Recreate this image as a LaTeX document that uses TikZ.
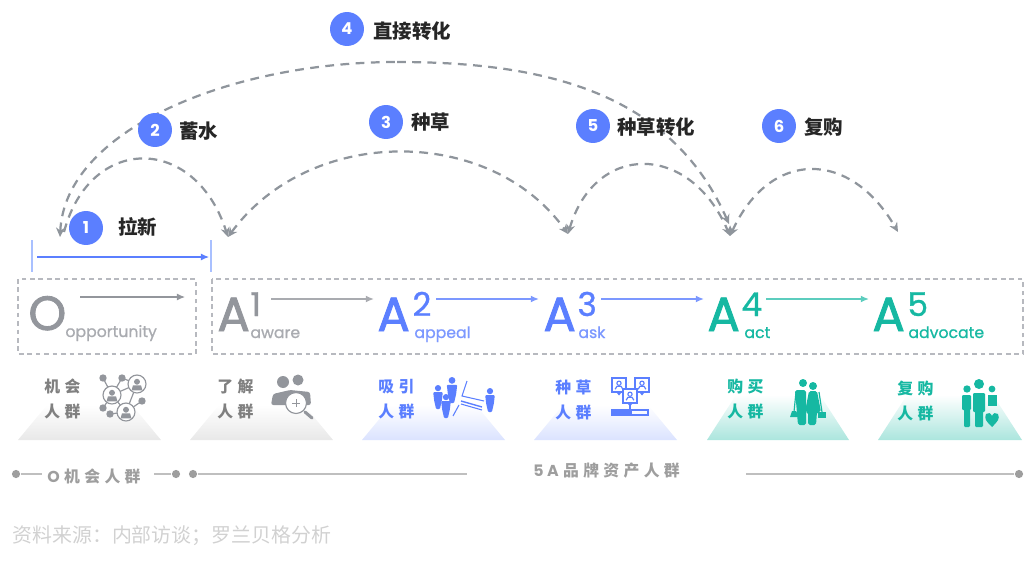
\documentclass[tikz,border=0pt]{standalone}
\usepackage{fontspec}
\setmainfont{Poppins}
\newfontfamily\cjk{Noto Sans CJK SC}
\newfontfamily\cjkwide[WordSpace=1.2]{Noto Sans CJK SC}
\newfontfamily\stagefont[FakeBold=1.8]{Poppins}
\newfontfamily\stagesmall[FakeBold=0.9]{Poppins}
\usetikzlibrary{arrows.meta}

\definecolor{stepblue}{HTML}{5B7FFF}
\definecolor{lineblue}{HTML}{A9C0FF}
\definecolor{stageteal}{HTML}{16B8A2}
\definecolor{stagegray}{HTML}{93969C}
\definecolor{curvegray}{HTML}{8F959C}
\definecolor{boxgray}{HTML}{B7B9BF}

\tikzset{
    stepdot/.style={circle, fill=stepblue, text=white, minimum size=34*0.853pt, inner sep=0pt, font=\bfseries\fontsize{14}{14}\selectfont},
    steptext/.style={anchor=west, inner sep=0pt, text=black!85, font=\cjk\bfseries\fontsize{16.6}{16.6}\selectfont},
    hop/.style={line width=1.9pt, curvegray, dash pattern=on 7.5pt off 5.5pt, -{Stealth[length=8pt,width=7.5pt]}},
    hopboth/.style={hop, {Stealth[length=8pt,width=7.5pt]}-{Stealth[length=8pt,width=7.5pt]}},
    scopebox/.style={line width=1.3pt, boxgray, dash pattern=on 4pt off 3.2pt},
    bigletter/.style={anchor=base west, inner sep=0pt, font=\stagefont\fontsize{41}{41}\selectfont},
    supletter/.style={anchor=base west, inner sep=0pt, font=\stagesmall\fontsize{28}{28}\selectfont},
    subletter/.style={anchor=base west, inner sep=0pt, font=\stagesmall\fontsize{13.4}{13.4}\selectfont},
    flow/.style={line width=1.3pt, -{Latex[length=7pt,width=6pt]}},
    grouptext/.style={align=left, inner sep=0pt, font=\cjkwide\bfseries\fontsize{13.5}{20.8}\selectfont},
    barline/.style={line width=0.9pt, black!25},
    bardot/.style={circle, fill=black!38, minimum size=7pt, inner sep=0pt},
    bartext/.style={inner sep=0pt, text=black!38, font=\cjkwide\bfseries\fontsize{13.5}{13.5}\selectfont}
}

% one standing figure: x, top y, height, colour
\newcommand{\figureicon}[4]{%
    \fill[#4] (#1,{#2+0.13*#3}) circle ({0.13*#3});
    \fill[#4, rounded corners=0.8pt] ({#1-0.2*#3},{#2+0.3*#3}) -- ({#1+0.2*#3},{#2+0.3*#3}) -- ({#1+0.16*#3},{#2+0.65*#3}) -- ({#1+0.08*#3},{#2+#3}) -- ({#1-0.08*#3},{#2+#3}) -- ({#1-0.16*#3},{#2+0.65*#3}) -- cycle;
}
% one ring with a person in it: x, y, radius, colour
\newcommand{\ringicon}[4]{%
    \draw[#4, fill=white, line width=1pt] (#1,#2) circle (#3);
    \fill[#4] (#1,{#2-0.25*#3}) circle ({0.33*#3});
    \fill[#4] ({#1-0.6*#3},{#2+0.7*#3}) -- ({#1-0.45*#3},{#2+0.15*#3}) -- ({#1+0.45*#3},{#2+0.15*#3}) -- ({#1+0.6*#3},{#2+0.7*#3}) -- cycle;
}
% one screen with a person in it: x, y, size, colour
\newcommand{\screenicon}[4]{%
    \draw[#4, fill=white, line width=1.2pt] ({#1-#3},{#2-#3}) rectangle ({#1+#3},{#2+#3});
    \draw[#4, line width=1pt] (#1,{#2-0.25*#3}) circle ({0.3*#3});
    \draw[#4, line width=1pt] ({#1-0.55*#3},{#2+0.6*#3}) -- ({#1-0.3*#3},{#2+0.2*#3}) -- ({#1+0.3*#3},{#2+0.2*#3}) -- ({#1+0.55*#3},{#2+0.6*#3});
    \fill[#4] ({#1-0.4*#3},{#2+#3}) -- ({#1+0.4*#3},{#2+#3}) -- (#1,{#2+1.5*#3}) -- cycle;
}

\begin{document}
\begin{tikzpicture}[x=0.03cm, y=-0.03cm, thick, >=Stealth]
    \useasboundingbox (0,0) rectangle (1033,564);

    % Curve ends
    \coordinate (endleft) at (60,237);
    \coordinate (endone) at (64,232);
    \coordinate (endaone) at (228,237);
    \coordinate (endatwo) at (568,234);
    \coordinate (endtop) at (729,224);
    \coordinate (endathree) at (730,236);
    \coordinate (endafour) at (898,232);
    \coordinate (peak) at (397,62);

    % Curves
    \draw[hop, {Stealth[length=8pt,width=7.5pt]}-] (endleft) .. controls (65,130) and (230,62) .. (peak);
    \draw[hop] (peak) .. controls (540,62) and (670,90) .. (endtop);
    \draw[hop] (endone) .. controls (90,134) and (195,134) .. (endaone);
    \draw[hopboth] (endaone) .. controls (310,125) and (490,125) .. (endatwo);
    \draw[hopboth] (endatwo) .. controls (595,142) and (690,142) .. (endathree);
    \draw[hopboth] (endathree) .. controls (770,149) and (850,149) .. (endafour);

    % Steps
    \node[stepdot] (stepone) at (86,228) {1};
    \node[steptext] (steponetext) at (118,227) {拉新};
    \node[stepdot] (steptwo) at (155,130) {2};
    \node[steptext] (steptwotext) at (179,131) {蓄水};
    \node[stepdot] (stepthree) at (386,122) {3};
    \node[steptext] (stepthreetext) at (411,122) {种草};
    \node[stepdot] (stepfour) at (347,29) {4};
    \node[steptext] (stepfourtext) at (373,31) {直接转化};
    \node[stepdot] (stepfive) at (593,126) {5};
    \node[steptext] (stepfivetext) at (617,127) {种草转化};
    \node[stepdot] (stepsix) at (779,126) {6};
    \node[steptext] (stepsixtext) at (804,127) {复购};

    % Span of step 1
    \draw[line width=1.2pt, lineblue] (32,240) -- (32,272);
    \draw[line width=1.2pt, lineblue] (211,240) -- (211,272);
    \coordinate (spanleft) at (37,257);
    \coordinate (spanright) at (209,257);
    \draw[flow, line width=0.9pt, stepblue] (spanleft) -- (spanright);

    % Dashed boxes
    \draw[scopebox] (18,279) rectangle (196,354);
    \draw[scopebox] (212,279) rectangle (1023,354);

    % O
    \node[bigletter, text=stagegray] (lettero) at (28,330) {O};
    \node[subletter, text=stagegray!80] (subo) at (65,337) {opportunity};
    % A1
    \node[bigletter, text=stagegray] (letterone) at (217,331) {A};
    \node[supletter, text=stagegray] (supone) at (250,316) {1};
    \node[subletter, text=stagegray!80] (subone) at (250,338) {aware};
    % A2
    \node[bigletter, text=stepblue] (lettertwo) at (377,331) {A};
    \node[supletter, text=stepblue] (suptwo) at (412,316) {2};
    \node[subletter, text=stepblue!80] (subtwo) at (414,338) {appeal};
    % A3
    \node[bigletter, text=stepblue] (letterthree) at (543,331) {A};
    \node[supletter, text=stepblue] (supthree) at (577,316) {3};
    \node[subletter, text=stepblue!80] (subthree) at (578,338) {ask};
    % A4
    \node[bigletter, text=stageteal] (letterfour) at (707,331) {A};
    \node[supletter, text=stageteal] (supfour) at (741,316) {4};
    \node[subletter, text=stageteal] (subfour) at (744,338) {act};
    % A5
    \node[bigletter, text=stageteal] (letterfive) at (872,331) {A};
    \node[supletter, text=stageteal] (supfive) at (907,316) {5};
    \node[subletter, text=stageteal] (subfive) at (908,338) {advocate};

    % Stage arrows
    \coordinate (outo) at (80,297);
    \coordinate (ino) at (185,297);
    \coordinate (outone) at (271,299);
    \coordinate (intwo) at (374,299);
    \coordinate (outtwo) at (436,299);
    \coordinate (inthree) at (539,299);
    \coordinate (outthree) at (601,299);
    \coordinate (infour) at (704,299);
    \coordinate (outfour) at (766,299);
    \coordinate (infive) at (869,299);
    \draw[flow, line width=0.9pt, stagegray] (outo) -- (ino);
    \draw[flow, stagegray!80] (outone) -- (intwo);
    \draw[flow, stepblue!80] (outtwo) -- (inthree);
    \draw[flow, stepblue!80] (outthree) -- (infour);
    \draw[flow, stageteal!70] (outfour) -- (infive);

    % Trapezoids
    \shade[top color=white, bottom color=black!9] (18,440) -- (47,405) -- (132,405) -- (161,440) -- cycle;
    \shade[top color=white, bottom color=black!9] (190,440) -- (219,405) -- (304,405) -- (333,440) -- cycle;
    \shade[top color=white, bottom color=stepblue!22] (362,440) -- (391,405) -- (476,405) -- (505,440) -- cycle;
    \shade[top color=white, bottom color=stepblue!22] (534,440) -- (563,405) -- (648,405) -- (677,440) -- cycle;
    \shade[top color=white, bottom color=stageteal!36] (707,440) -- (736,395) -- (820,395) -- (849,440) -- cycle;
    \shade[top color=white, bottom color=stageteal!36] (878,440) -- (907,395) -- (993,395) -- (1022,440) -- cycle;

    % Group labels
    \node[grouptext, anchor=west, text=black!50] (groupo) at (44,399) {机 会\\人 群};
    \node[grouptext, anchor=west, text=black!50] (groupone) at (217,399) {了 解\\人 群};
    \node[grouptext, anchor=west, text=stepblue] (grouptwo) at (378,399) {吸 引\\人 群};
    \node[grouptext, anchor=west, text=stepblue] (groupthree) at (555,400) {种 草\\人 群};
    \node[grouptext, anchor=west, text=stageteal] (groupfour) at (727,399) {购 买\\人 群};
    \node[grouptext, anchor=west, text=stageteal] (groupfive) at (897,401) {复 购\\人 群};

    % Icon O
    \draw[stagegray, line width=1pt] (103,378) -- (112,395) -- (122,378) -- (137,384) -- (112,395) -- (126,412) -- (137,384);
    \draw[stagegray, line width=1pt] (103,408) -- (112,395);
    \draw[stagegray, line width=1pt] (110,414) -- (126,412) -- (142,401);
    \foreach \dotx/\doty in {103/378, 122/378, 142/401, 103/408, 110/414}
        \fill[stagegray] (\dotx,\doty) circle (3.7);
    \ringicon{137}{384}{9}{stagegray}
    \ringicon{112}{395}{9}{stagegray}
    \ringicon{126}{412}{9}{stagegray}

    % Icon A1
    \fill[stagegray] (283,382) circle (6);
    \fill[stagegray] (298,380) circle (5.5);
    \fill[stagegray, rounded corners=2pt] (271,405) -- (273,394) -- (290,390) -- (310,392) -- (311,405) -- cycle;
    \draw[stagegray, line width=2.6pt, line cap=round] (305,412) -- (312,418);
    \draw[stagegray, fill=white, line width=1pt] (296,403) circle (10.5);
    \draw[stagegray, line width=0.8pt] (292,403) -- (300,403) (296,399) -- (296,407);

    % Icon A2
    \figureicon{452}{377}{26}{stepblue}
    \figureicon{438}{385}{24}{stepblue}
    \figureicon{446}{394}{24}{stepblue}
    \figureicon{490}{388}{24}{stepblue}
    \draw[stepblue, line width=0.9pt] (467,381) -- (462,396) -- (484,401);
    \draw[stepblue, line width=1.2pt] (461,401) -- (482,407);
    \draw[stepblue, line width=0.9pt] (461,404) -- (482,410);
    \draw[stepblue, line width=0.9pt] (459,405) -- (453,416);

    % Icon A3
    \screenicon{619}{385}{7}{stepblue}
    \screenicon{642}{385}{7}{stepblue}
    \screenicon{630}{396}{7}{stepblue}
    \draw[stepblue, line width=1.2pt] (612,410) rectangle (648,415);
    \fill[stepblue] (612,410) rectangle (632,415);
    \draw[stepblue, line width=1pt] (630,404) -- (630,410);

    % Icon A4
    \fill[stageteal] (803,383) circle (4);
    \fill[stageteal] (813,386) circle (4);
    \fill[stageteal, rounded corners=1.5pt] (795,390) -- (806,390) -- (806,425) -- (798,425) -- cycle;
    \fill[stageteal, rounded corners=1.5pt] (809,391) -- (817,391) -- (821,412) -- (817,412) -- (816,425) -- (808,425) -- (808,412) -- (805,412) -- cycle;
    \draw[stageteal, line width=1pt] (796,392) -- (794,412);
    \draw[stageteal, line width=1pt] (819,392) -- (822,412);
    \fill[stageteal] (790,417) -- (792,411) -- (796,411) -- (799,417) -- cycle;
    \fill[stageteal] (818,412) rectangle (826,418);

    % Icon A5
    \fill[stageteal] (967,389) circle (3.7);
    \fill[stageteal] (979,384) circle (5);
    \fill[stageteal] (992,389) circle (3.4);
    \fill[stageteal, rounded corners=1pt] (962,395) rectangle (971,410);
    \fill[stageteal, rounded corners=1pt] (964,408) rectangle (970,427);
    \fill[stageteal, rounded corners=1pt] (973,393) rectangle (985,412);
    \fill[stageteal, rounded corners=1pt] (975,410) rectangle (983,427);
    \fill[stageteal] (988,395) rectangle (997,406);
    \fill[stageteal] (992,427) .. controls (986,421) and (984,419) .. (986,414) .. controls (988,412) and (991,413) .. (992,416) .. controls (993,413) and (996,412) .. (998,414) .. controls (1000,419) and (998,421) .. (992,427);

    % Bottom line
    \node[bardot] (barstart) at (16,474) {};
    \node[bardot] (baroend) at (176,474) {};
    \node[bardot] (barastart) at (193,474) {};
    \node[bardot] (barend) at (1019,474) {};
    \coordinate (barogap) at (42,474);
    \coordinate (barogapend) at (154,474);
    \coordinate (baragap) at (467,474);
    \coordinate (baragapend) at (746,474);
    \draw[barline] (barstart) -- (barogap);
    \draw[barline] (barogapend) -- (baroend);
    \draw[barline] (barastart) -- (baragap);
    \draw[barline] (baragapend) -- (barend);
    \node[bartext, anchor=west] (barotext) at (47,476) {{\rmfamily O} 机 会 人 群};
    \node[bartext, anchor=west] (baratext) at (533,471) {{\rmfamily 5 A} 品 牌 资 产 人 群};

    % Source
    \node[anchor=west, inner sep=0pt, text=black!18, font=\cjk\fontsize{17}{17}\selectfont] (source) at (12,536) {资料来源：内部访谈；罗兰贝格分析};

\end{tikzpicture}
\end{document}
